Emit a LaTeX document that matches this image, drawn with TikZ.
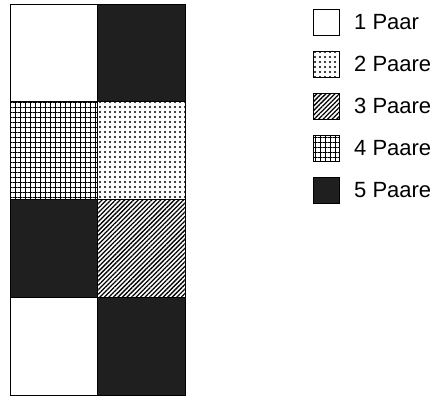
\documentclass[tikz,border=0pt]{standalone}
\usepackage{fontspec}
\setmainfont{Liberation Sans}
\usepackage{tikz}
\usetikzlibrary{patterns.meta}

\begin{document}
\begin{tikzpicture}[
  x=1pt, y=-1pt,
  cell_box/.style={draw, rectangle, line width=1pt, inner sep=0pt, outer sep=0pt, minimum width=87.5pt, minimum height=97.75pt},
  key_box/.style={draw, rectangle, line width=1pt, inner sep=0pt, outer sep=0pt, minimum size=26pt},
  key_label/.style={anchor=west, inner sep=0pt, font=\fontsize{22}{24}\selectfont},
  one_pair/.style={fill=white},
  two_pairs/.style={pattern={Dots[distance=5pt, radius=1.1pt]}},
  three_pairs/.style={pattern={Lines[angle=45, distance=3.2pt, line width=1.3pt]}},
  four_pairs/.style={pattern={Hatch[distance=5pt, line width=1pt]}},
  five_pairs/.style={fill=black!88}
]
  \useasboundingbox (0,0) rectangle (433,397);

  % Grid: two columns, four rows
  \node (left_1) [cell_box, one_pair] at (53.75, 52.875) {};
  \node (right_1) [cell_box, five_pairs] at (141.25, 52.875) {};
  \node (left_2) [cell_box, four_pairs] at (53.75, 150.625) {};
  \node (right_2) [cell_box, two_pairs] at (141.25, 150.625) {};
  \node (left_3) [cell_box, five_pairs] at (53.75, 248.375) {};
  \node (right_3) [cell_box, three_pairs] at (141.25, 248.375) {};
  \node (left_4) [cell_box, one_pair] at (53.75, 346.125) {};
  \node (right_4) [cell_box, five_pairs] at (141.25, 346.125) {};

  % Legend
  \node (key_1) [key_box, one_pair] at (326, 22) {};
  \node (key_2) [key_box, two_pairs] at (326, 64) {};
  \node (key_3) [key_box, three_pairs] at (326, 106) {};
  \node (key_4) [key_box, four_pairs] at (326, 148) {};
  \node (key_5) [key_box, five_pairs] at (326, 190) {};

  \node (label_1) [key_label] at (354, 22) {1 Paar};
  \node (label_2) [key_label] at (354, 64) {2 Paare};
  \node (label_3) [key_label] at (354, 106) {3 Paare};
  \node (label_4) [key_label] at (354, 148) {4 Paare};
  \node (label_5) [key_label] at (354, 190) {5 Paare};

\end{tikzpicture}
\end{document}
